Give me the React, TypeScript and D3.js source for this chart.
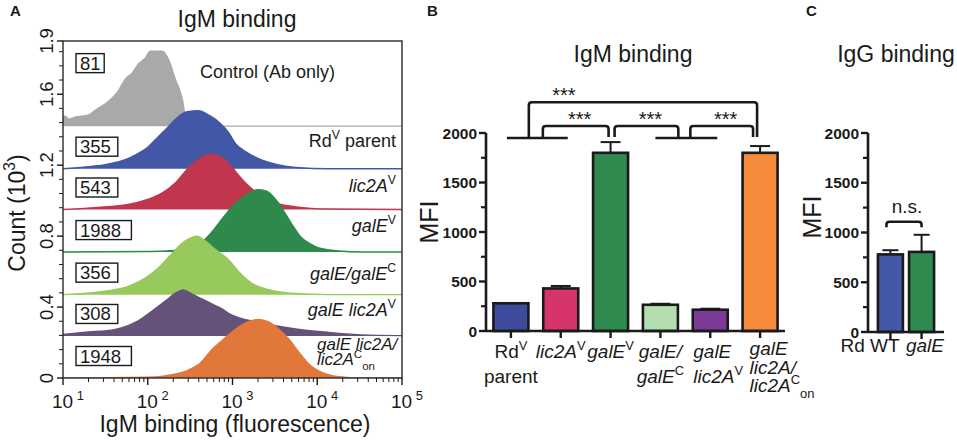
import React from "react";
import * as d3 from "d3";

const FONT = "'Liberation Sans', Arial, Helvetica, sans-serif";
const INK = "#1a1a1a";

type Seg = { t: string; i?: boolean; sup?: boolean; sub?: boolean };

// ---------------- Panel A: flow histograms (x = log10 fluorescence, y = count ×10³)
const controlLog = [1.0, 1.024, 1.07, 1.14, 1.296, 1.414, 1.497, 1.58, 1.651, 1.734, 1.817, 1.888, 1.97, 2.03, 2.172, 2.243, 2.325, 2.408, 2.467, 3.5, 5.0];
const controlCount = [0.056, 0.056, 0.039, 0.051, 0.062, 0.101, 0.124, 0.158, 0.197, 0.265, 0.299, 0.349, 0.383, 0.423, 0.423, 0.378, 0.265, 0.152, 0, 0, 0];
const parentLog = [1.0, 1.296, 1.497, 1.698, 1.852, 2.006, 2.124, 2.243, 2.361, 2.467, 2.598, 2.716, 2.834, 2.953, 3.036, 3.154, 3.343, 3.544, 3.746, 4.136, 5.0];
const parentCount = [0, 0.011, 0.023, 0.045, 0.077, 0.124, 0.18, 0.237, 0.293, 0.321, 0.327, 0.303, 0.265, 0.205, 0.141, 0.096, 0.049, 0.021, 0.007, 0, 0];
const lic2ALog = [1.0, 1.497, 1.769, 1.97, 2.172, 2.325, 2.479, 2.598, 2.74, 2.882, 2.953, 3.154, 3.343, 3.509, 3.746, 4.136, 5.0];
const lic2ACount = [0, 0.015, 0.028, 0.052, 0.094, 0.15, 0.234, 0.282, 0.31, 0.291, 0.259, 0.15, 0.075, 0.037, 0.015, 0.003, 0];
const galELog = [1.0, 2.03, 2.503, 2.621, 2.775, 2.858, 2.941, 3.012, 3.095, 3.178, 3.296, 3.402, 3.533, 3.627, 3.722, 3.805, 3.923, 4.018, 4.254, 4.527, 5.0];
const galECount = [0, 0.003, 0.017, 0.049, 0.124, 0.175, 0.225, 0.265, 0.299, 0.327, 0.352, 0.344, 0.282, 0.214, 0.141, 0.085, 0.045, 0.023, 0.006, 0, 0];
const galECompLog = [1.0, 1.497, 1.769, 1.97, 2.124, 2.29, 2.408, 2.479, 2.586, 2.657, 2.799, 2.953, 3.071, 3.225, 3.426, 3.746, 4.136, 5.0];
const galECompCount = [0, 0.019, 0.047, 0.094, 0.15, 0.234, 0.291, 0.313, 0.329, 0.31, 0.254, 0.197, 0.131, 0.065, 0.028, 0.006, 0, 0];
const galELic2ALog = [1.0, 1.296, 1.497, 1.698, 1.888, 2.053, 2.207, 2.325, 2.42, 2.527, 2.645, 2.763, 2.882, 2.953, 3.343, 3.746, 4.136, 4.527, 5.0];
const galELic2ACount = [0.008, 0.023, 0.028, 0.047, 0.085, 0.141, 0.197, 0.241, 0.259, 0.235, 0.207, 0.179, 0.151, 0.127, 0.073, 0.039, 0.02, 0.006, 0.002];
const galELic2AOnLog = [1.0, 2.089, 2.266, 2.479, 2.621, 2.775, 2.858, 2.953, 3.071, 3.189, 3.308, 3.426, 3.544, 3.663, 3.781, 3.899, 4.053, 4.254, 4.515, 5.0];
const galELic2AOnCount = [0, 0.006, 0.017, 0.045, 0.085, 0.169, 0.203, 0.242, 0.287, 0.318, 0.33, 0.316, 0.276, 0.22, 0.147, 0.079, 0.032, 0.008, 0, 0];

const histOffsets = [1.42, 1.18, 0.95, 0.71, 0.47, 0.237, 0];
const histMFI = ["81", "355", "543", "1988", "356", "308", "1948"];
const histColors = ["#a9a9a9", "#4257a5", "#c1354f", "#2d8a4c", "#98c95c", "#645279", "#e2773b"];
const histLabels: Seg[][][] = [
  [[{ t: "Control (Ab only)" }]],
  [[{ t: "Rd" }, { t: "V", sup: true }, { t: " parent" }]],
  [[{ t: "lic2A", i: true }, { t: "V", sup: true }]],
  [[{ t: "galE", i: true }, { t: "V", sup: true }]],
  [[{ t: "galE/galE", i: true }, { t: "C", sup: true }]],
  [[{ t: "galE lic2A", i: true }, { t: "V", sup: true }]],
  [[{ t: "galE lic2A/", i: true }], [{ t: "lic2A", i: true }, { t: "C", sup: true }, { t: "on", sub: true }]],
];
const xTickExp = [1, 2, 3, 4, 5];
const yTicksA = [0, 0.4, 0.8, 1.2, 1.6, 1.9];

// ---------------- Panel B: IgM MFI bars
const barCats = ["Rd parent", "lic2A", "galE", "galE/galEc", "galE lic2A", "galE lic2A/lic2Acon"];
const barMeans = [280, 430, 1800, 265, 215, 1800];
const barErr = [0, 25, 108, 10, 10, 68];
const barColors = ["#3f4c9e", "#d5346c", "#2e8a4f", "#b3dfb0", "#7b3c97", "#f58a3a"];
const barLabels: Seg[][][] = [
  [[{ t: "Rd" }, { t: "V", sup: true }], [{ t: "parent" }]],
  [[{ t: "lic2A", i: true }, { t: "V", sup: true }]],
  [[{ t: "galE", i: true }, { t: "V", sup: true }]],
  [[{ t: "galE/", i: true }], [{ t: "galE", i: true }, { t: "C", sup: true }]],
  [[{ t: "galE", i: true }], [{ t: "lic2A", i: true }, { t: "V", sup: true }]],
  [[{ t: "galE", i: true }], [{ t: "lic2A/", i: true }], [{ t: "lic2A", i: true }, { t: "C", sup: true }, { t: "on", sub: true }]],
];
const mfiTicks = [0, 500, 1000, 1500, 2000];

// ---------------- Panel C: IgG MFI bars
const cCats = ["Rd WT", "galE"];
const cMeans = [780, 805];
const cErr = [42, 172];
const cColors = ["#4359a7", "#2e8a4f"];

function Rich({ segs, fs }: { segs: Seg[]; fs: number }) {
  let cur = 0;
  return (
    <>
      {segs.map((s, k) => {
        const target = s.sup ? -0.42 * fs : s.sub ? 0.3 * fs : 0;
        const dy = target - cur;
        cur = target;
        return (
          <tspan key={k} dy={dy} fontStyle={s.i ? "italic" : "normal"} fontSize={s.sup || s.sub ? fs * 0.68 : fs}>
            {s.t}
          </tspan>
        );
      })}
    </>
  );
}

export default function App() {
  // Panel A scales
  const xA = d3.scaleLog().domain([10, 1e5]).range([63, 402]);
  const yA = d3.scaleLinear().domain([0, 1.9]).range([378, 41]);
  const series = [
    [controlLog, controlCount],
    [parentLog, parentCount],
    [lic2ALog, lic2ACount],
    [galELog, galECount],
    [galECompLog, galECompCount],
    [galELic2ALog, galELic2ACount],
    [galELic2AOnLog, galELic2AOnCount],
  ];
  const minorY = d3.range(1, 24).filter((k) => k % 5 !== 0).map((k) => k * 0.08);
  const minorX: number[] = [];
  [10, 100, 1000, 10000].forEach((d) => d3.range(2, 10).forEach((m) => minorX.push(d * m)));

  // Panel B scales
  const xB = d3.scaleBand().domain(barCats).range([486, 785]);
  const cx = (c: string) => (xB(c) as number) + xB.bandwidth() / 2;
  const yB = d3.scaleLinear().domain([0, 2000]).range([331, 133]);
  const bw = 35;

  // Panel C scales
  const xC = d3.scalePoint().domain(cCats).range([868, 944]).padding(0.72);
  const yC = d3.scaleLinear().domain([0, 2000]).range([332, 133]);
  const cbw = 25;

  const c0 = cx(barCats[0]), c1 = cx(barCats[1]), c2 = cx(barCats[2]), c3 = cx(barCats[3]), c4 = cx(barCats[4]), c5 = cx(barCats[5]);
  const g1 = (c0 + c1) / 2, g2 = (c3 + c4) / 2;
  const yGroup = yB(1950), yLow = yB(1960), ySmall = yB(2070), yBig = yB(2310);
  const bracket = (xl: number, yl: number, xr: number, yr: number, top: number, r = 3) =>
    `M${xl},${yl} L${xl},${top + r} Q${xl},${top} ${xl + r},${top} L${xr - r},${top} Q${xr},${top} ${xr},${top + r} L${xr},${yr}`;

  const legs = {
    big: [g1 - 7, c5 - 3],
    s1: [g1 + 7, c2 - 2],
    s2: [c2 + 4, g2 - 7],
    s3: [g2 + 5, c5 - 7],
  };

  return (
    <svg width={957} height={447} style={{ display: "block", position: "absolute", left: 0, top: 0 }} fontFamily={FONT}>
      <rect width={957} height={447} fill="#fff" />
      {/* Panel labels */}
      <text x={10} y={16} fontSize={15} fontWeight="bold" fill={INK}>A</text>
      <text x={427} y={16} fontSize={15} fontWeight="bold" fill={INK}>B</text>
      <text x={806} y={16} fontSize={15} fontWeight="bold" fill={INK}>C</text>

      {/* ===== Panel A ===== */}
      <text x={237} y={27} fontSize={23} textAnchor="middle" fill={INK}>IgM binding</text>
      <defs>
        <clipPath id="clipA">
          <rect x={63} y={41} width={339} height={337} />
        </clipPath>
      </defs>
      <g clipPath="url(#clipA)">
        {series.map(([lx, cnt], s) => {
          const pts = lx.map((v, k) => [v, cnt[k]] as [number, number]);
          const base = histOffsets[s];
          const area = d3
            .area<[number, number]>()
            .x((d) => xA(Math.pow(10, d[0])))
            .y0(yA(base))
            .y1((d) => yA(base + d[1]))
            .curve(d3.curveMonotoneX);
          const line = d3
            .line<[number, number]>()
            .x((d) => xA(Math.pow(10, d[0])))
            .y((d) => yA(base + d[1]))
            .curve(d3.curveMonotoneX);
          return (
            <g key={s}>
              <path d={area(pts) || ""} fill={histColors[s]} />
              <path d={line(pts) || ""} fill="none" stroke={histColors[s]} strokeWidth={1.4} />
            </g>
          );
        })}
      </g>
      {/* frame */}
      <rect x={63} y={41} width={339} height={337} fill="none" stroke="#2a2a2a" strokeWidth={1.4} />
      {/* MFI boxes */}
      {histMFI.map((m, s) => {
        const cy = s === 0 ? yA(histOffsets[s]) - 63 : yA(histOffsets[s]) - 22;
        const w = m.length * 13.6 + 1;
        return (
          <g key={s}>
            <rect x={76} y={cy - 9.5} width={w} height={19} fill="#fff" stroke={INK} strokeWidth={1.4} />
            <text x={80} y={cy + 6.5} fontSize={18.5} fill={INK}>{m}</text>
          </g>
        );
      })}
      {/* row labels */}
      <text x={200} y={78} fontSize={18} fill={INK}><Rich segs={histLabels[0][0]} fs={18} /></text>
      {[1, 2, 3, 4, 5].map((s) => {
        const yy = [0, 147, 192, 232, 280, 316][s];
        return (
          <text key={s} x={396} y={yy} fontSize={18} textAnchor="end" fill={INK}>
            <Rich segs={histLabels[s][0]} fs={18} />
          </text>
        );
      })}
      <text x={317} y={350} fontSize={17} fill={INK}><Rich segs={histLabels[6][0]} fs={17} /></text>
      <text x={317} y={365} fontSize={17} fill={INK}><Rich segs={histLabels[6][1]} fs={17} /></text>

      {/* y axis A */}
      {minorY.map((v) => (
        <line key={v} x1={59} x2={63} y1={yA(v)} y2={yA(v)} stroke={INK} strokeWidth={1} />
      ))}
      {yTicksA.map((v) => (
        <g key={v}>
          <line x1={57} x2={63} y1={yA(v)} y2={yA(v)} stroke={INK} strokeWidth={1.4} />
          <text transform={`translate(53,${yA(v)}) rotate(-90)`} fontSize={18.5} textAnchor="middle" fill={INK}>
            {v === 0 ? "0" : v.toFixed(1)}
          </text>
        </g>
      ))}
      <text transform="translate(25,213) rotate(-90)" fontSize={23} textAnchor="middle" fill={INK}>
        <Rich segs={[{ t: "Count (10" }, { t: "3", sup: true }, { t: ")" }]} fs={23} />
      </text>
      {/* x axis A */}
      {minorX.map((v) => (
        <line key={v} x1={xA(v)} x2={xA(v)} y1={378} y2={382} stroke={INK} strokeWidth={1} />
      ))}
      {xTickExp.map((e) => (
        <g key={e}>
          <line x1={xA(Math.pow(10, e))} x2={xA(Math.pow(10, e))} y1={378} y2={385} stroke={INK} strokeWidth={1.4} />
          <text x={xA(Math.pow(10, e)) - 11} y={408} fontSize={19} fill={INK}>
            <Rich segs={[{ t: "10" }, { t: " " + e, sup: true }]} fs={19} />
          </text>
        </g>
      ))}
      <text x={235} y={432} fontSize={23} textAnchor="middle" fill={INK}>IgM binding (fluorescence)</text>

      {/* ===== Panel B ===== */}
      <text x={633} y={62} fontSize={23} textAnchor="middle" fill={INK}>IgM binding</text>
      <text transform="translate(438,222) rotate(-90)" fontSize={25} textAnchor="middle" fill={INK}>MFI</text>
      {barCats.map((c, k) => {
        const x = cx(c);
        const top = yB(barMeans[k]);
        const et = yB(barMeans[k] + barErr[k]);
        return (
          <g key={c}>
            {barErr[k] > 0 && (
              <g stroke={INK} strokeWidth={2}>
                <line x1={x} x2={x} y1={top} y2={et} />
                <line x1={x - 10} x2={x + 10} y1={et} y2={et} />
              </g>
            )}
            <rect x={x - bw / 2} y={top} width={bw} height={yB(0) - top} fill={barColors[k]} stroke={INK} strokeWidth={2.6} />
          </g>
        );
      })}
      {/* axes B */}
      <line x1={486} x2={486} y1={yB(0)} y2={yB(2000)} stroke={INK} strokeWidth={2.6} />
      <line x1={486} x2={785} y1={yB(0)} y2={yB(0)} stroke={INK} strokeWidth={2.6} />
      {d3.range(250, 2000, 500).map((v) => (
        <line key={v} x1={481} x2={486} y1={yB(v)} y2={yB(v)} stroke={INK} strokeWidth={2.2} />
      ))}
      {mfiTicks.map((v) => (
        <g key={v}>
          <line x1={479} x2={486} y1={yB(v)} y2={yB(v)} stroke={INK} strokeWidth={2.4} />
          <text x={477} y={yB(v) + 5.5} fontSize={15.5} fontWeight="bold" textAnchor="end" fill={INK}>{v}</text>
        </g>
      ))}
      {barCats.map((c) => (
        <line key={c} x1={cx(c)} x2={cx(c)} y1={yB(0)} y2={yB(0) + 7} stroke={INK} strokeWidth={2.4} />
      ))}
      {barLabels.map((lines, k) => {
        const x = cx(barCats[k]);
        const three = lines.length === 3;
        const anchor = k === 4 || k === 5 ? "start" : "middle";
        const xx = k === 4 ? x - 17 : k === 5 ? x - 10.5 : x;
        return lines.map((segs, j) => (
          <text key={`${k}-${j}`} x={xx} y={(three ? 355 : 358) + j * (three ? 18.5 : 25)} fontSize={19} textAnchor={anchor} fill={INK}>
            <Rich segs={segs} fs={19} />
          </text>
        ));
      })}
      {/* significance brackets */}
      <g stroke={INK} strokeWidth={2.6} fill="none">
        <line x1={c0 - 4} x2={c1 + 7} y1={yGroup} y2={yGroup} />
        <line x1={c3 - 5} x2={c4 + 7} y1={yGroup} y2={yGroup} />
        <path d={bracket(legs.big[0], yGroup, legs.big[1], yLow, yBig)} />
        <path d={bracket(legs.s1[0], yGroup, legs.s1[1], yLow, ySmall)} />
        <path d={bracket(legs.s2[0], yLow, legs.s2[1], yGroup, ySmall)} />
        <path d={bracket(legs.s3[0], yGroup, legs.s3[1], yLow, ySmall)} />
      </g>
      <text x={legs.big[0] + 35} y={yBig - 0.5} fontSize={20} textAnchor="middle" fill={INK}>***</text>
      {[legs.s1, legs.s2, legs.s3].map((l, k) => (
        <text key={k} x={(l[0] + l[1]) / 2 + 4} y={ySmall - 0.5} fontSize={20} textAnchor="middle" fill={INK}>***</text>
      ))}

      {/* ===== Panel C ===== */}
      <text x={896} y={62} fontSize={23} textAnchor="middle" fill={INK}>IgG binding</text>
      <text transform="translate(821,217) rotate(-90)" fontSize={25} textAnchor="middle" fill={INK}>MFI</text>
      {cCats.map((c, k) => {
        const x = xC(c) as number;
        const top = yC(cMeans[k]);
        const et = yC(cMeans[k] + cErr[k]);
        return (
          <g key={c}>
            <g stroke={INK} strokeWidth={2}>
              <line x1={x} x2={x} y1={top} y2={et} />
              <line x1={x - 8} x2={x + 8} y1={et} y2={et} />
            </g>
            <rect x={x - cbw / 2} y={top} width={cbw} height={yC(0) - top} fill={cColors[k]} stroke={INK} strokeWidth={2.6} />
            <line x1={x} x2={x} y1={yC(0)} y2={yC(0) + 7} stroke={INK} strokeWidth={2.4} />
          </g>
        );
      })}
      <line x1={868} x2={868} y1={yC(0)} y2={yC(2000)} stroke={INK} strokeWidth={2.6} />
      <line x1={868} x2={944} y1={yC(0)} y2={yC(0)} stroke={INK} strokeWidth={2.6} />
      {d3.range(250, 2000, 500).map((v) => (
        <line key={v} x1={863} x2={868} y1={yC(v)} y2={yC(v)} stroke={INK} strokeWidth={2.2} />
      ))}
      {mfiTicks.map((v) => (
        <g key={v}>
          <line x1={861} x2={868} y1={yC(v)} y2={yC(v)} stroke={INK} strokeWidth={2.4} />
          <text x={859} y={yC(v) + 5.5} fontSize={15.5} fontWeight="bold" textAnchor="end" fill={INK}>{v}</text>
        </g>
      ))}
      <path
        d={bracket((xC(cCats[0]) as number) - 4, yC(1052), xC(cCats[1]) as number, yC(1052), yC(1108))}
        stroke={INK}
        strokeWidth={2.6}
        fill="none"
      />
      <text x={907} y={213} fontSize={19} textAnchor="middle" fill={INK}>n.s.</text>
      <text x={870} y={352} fontSize={19} textAnchor="middle" fill={INK}>{cCats[0]}</text>
      <text x={925} y={352} fontSize={19} textAnchor="middle" fontStyle="italic" fill={INK}>{cCats[1]}</text>
    </svg>
  );
}
